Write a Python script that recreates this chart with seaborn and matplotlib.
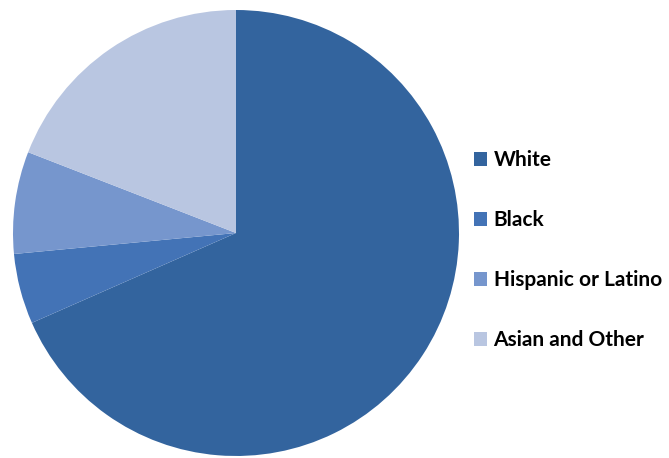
import matplotlib
matplotlib.use("Agg")
import matplotlib.pyplot as plt
import seaborn as sns
from matplotlib.patches import Patch

# Share of population by group (percent)
groups = ["White", "Black", "Hispanic or Latino", "Asian and Other"]
shares = [68.4, 5.1, 7.4, 19.1]
colors = ["#33649e", "#4373b6", "#7696cd", "#b9c6e1"]

sns.set_style("white")
plt.rcParams['font.family'] = ['Lato', 'DejaVu Sans']

fig = plt.figure(figsize=(6.69, 4.58), dpi=100)
ax = fig.add_axes([13 / 669, 2 / 458, 446 / 669, 446 / 458])

ax.pie(shares, colors=colors, startangle=90, counterclock=False,
       radius=1.0, wedgeprops=dict(linewidth=0))
ax.set_xlim(-1, 1)
ax.set_ylim(-1, 1)
ax.set_aspect('equal')
ax.axis('off')

handles = [Patch(facecolor=c, edgecolor='none') for c in colors]
leg = fig.legend(handles, groups, loc='upper left',
                 bbox_to_anchor=(466 / 669, 1 - 142 / 458),
                 frameon=False, fontsize=15, handlelength=0.62,
                 handleheight=0.62, handletextpad=0.3,
                 labelspacing=1.92, borderaxespad=0)
for t in leg.get_texts():
    t.set_color('#000000')
    t.set_fontweight('bold')

fig.savefig("out.png", dpi=100)
plt.close(fig)
